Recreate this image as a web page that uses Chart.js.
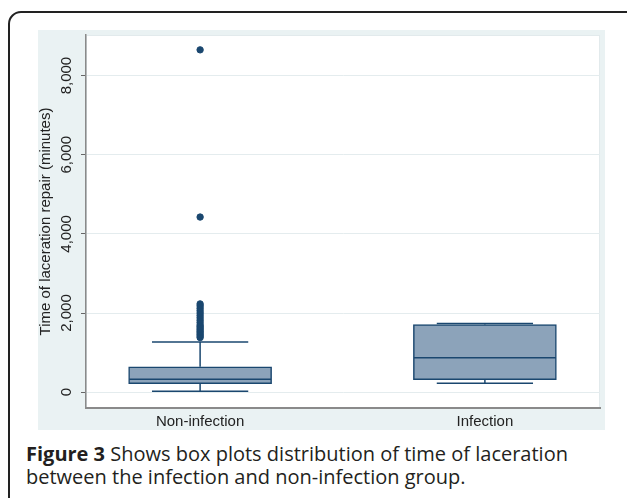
<!DOCTYPE html>
<html>
<head>
<meta charset="utf-8">
<script src="https://cdn.jsdelivr.net/npm/chart.js@4.4.1/dist/chart.umd.min.js"></script>
<style>
  body { margin: 0; width: 627px; height: 498px; overflow: hidden; background: #fff; position: relative; }
  #frame { position: absolute; left: 8px; top: 11px; width: 700px; height: 600px; border: 2px solid #222; border-radius: 13px; }
  #wrap { position: absolute; left: 38px; top: 30px; width: 567px; height: 400px; }
  #caption { position: absolute; left: 26px; top: 442px; font-family: "Open Sans", sans-serif; font-size: 20px; line-height: 23px; color: #231f20; white-space: nowrap; }
</style>
</head>
<body>
<div id="frame"></div>
<div id="wrap"><canvas id="myChart" width="567" height="400"></canvas></div>
<div id="caption"><b>Figure 3</b> Shows box plots distribution of time of laceration<br>between the infection and non-infection group.</div>
<script>
// data
const groups = ['Non-infection', 'Infection'];
const groupX = [1, 2];
const q1 = [217, 317];
const median = [325, 867];
const q3 = [642, 1708];
const whiskerLow = [25, 225];
const whiskerHigh = [1267, 1733];
const outliers = [1380, 1420, 1460, 1500, 1540, 1580, 1620, 1660, 1700, 1760, 1820, 1880, 1940, 2000, 2060, 2120, 2180, 2230, 4425, 8650];
const yTicks = [0, 2000, 4000, 6000, 8000];

const navy = '#1a476f';
const boxHalf = 0.249;
const capHalf = 0.169;

function seg(x1, y1, x2, y2) {
    return {
        type: 'line',
        data: [{x: x1, y: y1}, {x: x2, y: y2}],
        borderColor: navy,
        borderWidth: 1.5,
        pointRadius: 0,
        order: 1
    };
}

const datasets = [{
    type: 'bar',
    data: groupX.map((x, i) => ({x: x, y: [q1[i], q3[i]]})),
    backgroundColor: '#8ca3ba',
    borderColor: navy,
    borderWidth: 1.5,
    borderSkipped: false,
    barThickness: 143,
    order: 2
}];

groupX.forEach((x, i) => {
    datasets.push(seg(x, q3[i], x, whiskerHigh[i]));
    datasets.push(seg(x - capHalf, whiskerHigh[i], x + capHalf, whiskerHigh[i]));
    datasets.push(seg(x, whiskerLow[i], x, q1[i]));
    datasets.push(seg(x - capHalf, whiskerLow[i], x + capHalf, whiskerLow[i]));
    datasets.push(seg(x - boxHalf, median[i], x + boxHalf, median[i]));
});

datasets.push({
    type: 'scatter',
    data: outliers.map(v => ({x: groupX[0], y: v})),
    backgroundColor: navy,
    borderColor: navy,
    pointRadius: 3.2,
    order: 0
});

// stata-ish background + rotated y labels
const decor = {
    id: 'decor',
    beforeDraw(chart) {
        const {ctx, chartArea: a} = chart;
        ctx.save();
        ctx.fillStyle = '#eaf2f3';
        ctx.fillRect(0, 0, chart.width, chart.height);
        ctx.fillStyle = '#fff';
        ctx.fillRect(a.left, a.top, a.right - a.left, a.bottom - a.top);
        ctx.strokeStyle = '#e2eaec';
        ctx.lineWidth = 1;
        ctx.strokeRect(a.left + 0.5, a.top + 0.5, a.right - a.left - 1, a.bottom - a.top - 1);
        ctx.restore();
    },
    afterDraw(chart) {
        const {ctx} = chart;
        const y = chart.scales.y;
        ctx.save();
        ctx.fillStyle = '#222';
        ctx.font = '15px "Liberation Sans", Arial, sans-serif';
        ctx.textAlign = 'center';
        ctx.textBaseline = 'middle';
        yTicks.forEach(v => {
            ctx.save();
            ctx.translate(29, y.getPixelForValue(v));
            ctx.rotate(-Math.PI / 2);
            ctx.fillText(v.toLocaleString('en-US'), 0, 0);
            ctx.restore();
        });
        ctx.restore();
    }
};

const cht = document.getElementById('myChart').getContext('2d');
const myChart = new Chart(cht, {
    type: 'bar',
    data: { datasets: datasets },
    options: {
        responsive: false,
        animation: false,
        devicePixelRatio: 1,
        layout: { padding: { top: 1, right: 1, left: 0, bottom: 0 } },
        plugins: { legend: { display: false }, tooltip: { enabled: false } },
        scales: {
            x: {
                type: 'linear',
                offset: false,
                bounds: 'ticks',
                min: 0.5993,
                max: 2.4042,
                afterBuildTicks: (s) => { s.ticks = groupX.map(v => ({value: v})); },
                afterFit: (s) => { s.height = 22; },
                ticks: {
                    callback: (v) => groups[groupX.indexOf(v)],
                    font: { family: '"Liberation Sans", Arial, sans-serif', size: 15 },
                    color: '#222',
                    padding: 5,
                    maxRotation: 0
                },
                grid: { display: false, drawTicks: false, offset: false },
                border: { display: true, color: '#8a8a8a', width: 2 }
            },
            y: {
                type: 'linear',
                min: -400,
                max: 9025,
                afterBuildTicks: (s) => { s.ticks = yTicks.map(v => ({value: v})); },
                afterFit: (s) => { s.width = 48; },
                ticks: { display: false },
                grid: { color: '#e4ecee', lineWidth: 1, tickColor: '#666', tickLength: 5 },
                border: { display: true, color: '#8a8a8a', width: 1.5 },
                title: {
                    display: true,
                    text: 'Time of laceration repair (minutes)',
                    font: { family: '"Liberation Sans", Arial, sans-serif', size: 15, lineHeight: 1 },
                    color: '#222',
                    padding: 0
                }
            }
        }
    },
    plugins: [decor]
});
</script>
</body>
</html>
